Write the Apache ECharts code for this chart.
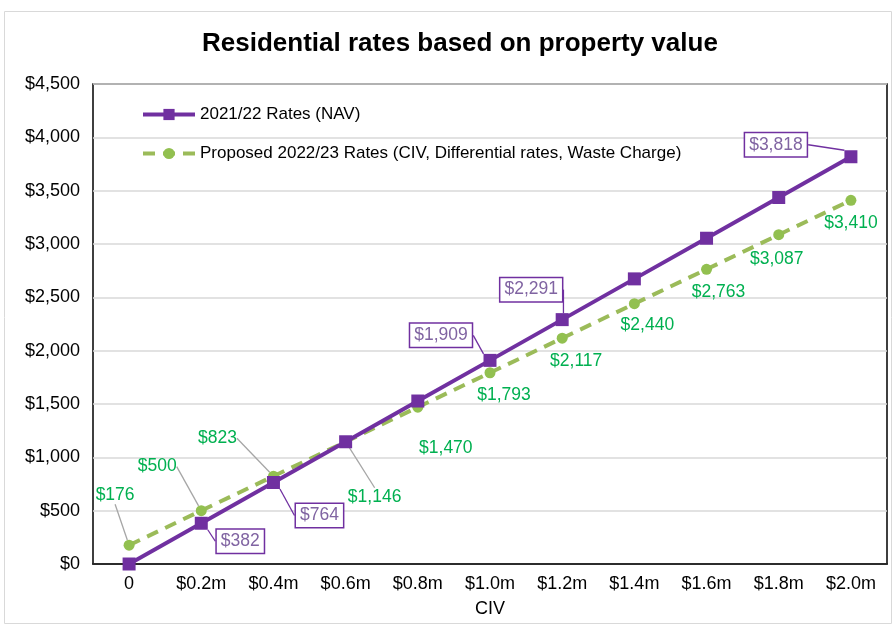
<!DOCTYPE html>
<html><head><meta charset="utf-8">
<script src="https://cdn.jsdelivr.net/npm/echarts@6/dist/echarts.min.js"></script>
<style>html,body{margin:0;padding:0;background:#fff}#c{width:896px;height:626px}</style>
</head><body><div id="c"></div>
<script>
const categories = ['0','$0.2m','$0.4m','$0.6m','$0.8m','$1.0m','$1.2m','$1.4m','$1.6m','$1.8m','$2.0m'];
const rates2122 = [0, 382, 764, 1146, 1528, 1909, 2291, 2673, 3054, 3436, 3818];
const proposed2223 = [176, 500, 823, 1146, 1470, 1793, 2117, 2440, 2763, 3087, 3410];
const seriesNames = ['2021/22 Rates (NAV)', 'Proposed 2022/23 Rates (CIV, Differential rates, Waste Charge)'];
const purpleLabelled = [1, 2, 5, 6, 10];
const greenLeader = [0, 1, 2, 3];

// label offsets (styling) from each point, in px
const purpleOffsets = {1:[39,18], 2:[46,33], 5:[-49,-25], 6:[-31,-30], 10:[-75,-12]};
const greenOffsets = [[-14,-50],[-44,-44],[-56,-38],[29,55],[28,41],[14,22],[14,23],[13,21],[12,23],[-2,24],[0,23]];

const fmt = v => '$' + v.toLocaleString('en-US');
const FONT = '"Liberation Sans", Arial, sans-serif';

const chart = echarts.init(document.getElementById('c'), null, {renderer: 'canvas'});
chart.setOption({
  animation: false,
  textStyle: {fontFamily: FONT},
  graphic: [{type: 'rect', shape: {x: 4.5, y: 11.5, width: 887, height: 612}, style: {fill: 'none', stroke: '#d9d9d9', lineWidth: 1}, silent: true}],
  title: {text: 'Residential rates based on property value', left: 197, top: 26,
    textStyle: {fontFamily: FONT, fontWeight: 'bold', fontSize: 26, color: '#000'}},
  legend: {orient: 'vertical', left: 136, top: 101, itemGap: 22, itemWidth: 52, itemHeight: 14,
    lineStyle: {width: 4},
    textStyle: {fontFamily: FONT, fontSize: 17, color: '#000'}, data: seriesNames},
  grid: {left: 93, right: 9, top: 84, bottom: 62, show: true, borderColor: '#000', borderWidth: 1.5},
  xAxis: {type: 'category', data: categories, boundaryGap: true, name: 'CIV', nameLocation: 'middle', nameGap: 36,
    nameTextStyle: {fontFamily: FONT, fontSize: 18, color: '#000'},
    axisLine: {show: true, lineStyle: {color: '#000', width: 1.5}}, axisTick: {show: false},
    axisLabel: {fontFamily: FONT, fontSize: 18, color: '#000', margin: 11}},
  yAxis: {type: 'value', min: 0, max: 4500, interval: 500,
    axisLine: {show: false}, axisTick: {show: false},
    splitLine: {lineStyle: {color: '#d9d9d9', width: 1.5}},
    axisLabel: {fontFamily: FONT, fontSize: 18, color: '#000', margin: 13, formatter: v => fmt(v)}},
  series: [
    {name: seriesNames[0], type: 'line', symbol: 'rect', symbolSize: 13, z: 3,
      itemStyle: {color: '#7030A0'}, lineStyle: {color: '#7030A0', width: 4},
      labelLine: {show: true, lineStyle: {color: '#7030A0', width: 1.3}},
      labelLayout: p => { const o = purpleOffsets[p.dataIndex]; return o ? {dx: o[0], dy: o[1]} : {}; },
      data: rates2122.map((v, i) => ({value: v,
        label: {show: purpleLabelled.includes(i), position: 'inside', formatter: p => fmt(p.value),
          fontFamily: FONT, fontSize: 17.5, color: '#8064A2', backgroundColor: '#fff',
          borderColor: '#7030A0', borderWidth: 1.5, padding: [3, 4, 2, 4]},
        labelLine: {show: purpleLabelled.includes(i)}}))},
    {name: seriesNames[1], type: 'line', symbol: 'circle', symbolSize: 11, z: 2,
      itemStyle: {color: '#92C050'}, lineStyle: {color: '#9BBB59', width: 4, type: [12, 8]},
      labelLine: {show: true, lineStyle: {color: '#a6a6a6', width: 1.3}},
      labelLayout: p => { const o = greenOffsets[p.dataIndex]; return {dx: o[0], dy: o[1]}; },
      data: proposed2223.map((v, i) => ({value: v,
        label: {show: true, position: 'inside', formatter: p => fmt(p.value),
          fontFamily: FONT, fontSize: 17.5, color: '#00B050'},
        labelLine: {show: greenLeader.includes(i)}}))}
  ]
});
</script></body></html>
